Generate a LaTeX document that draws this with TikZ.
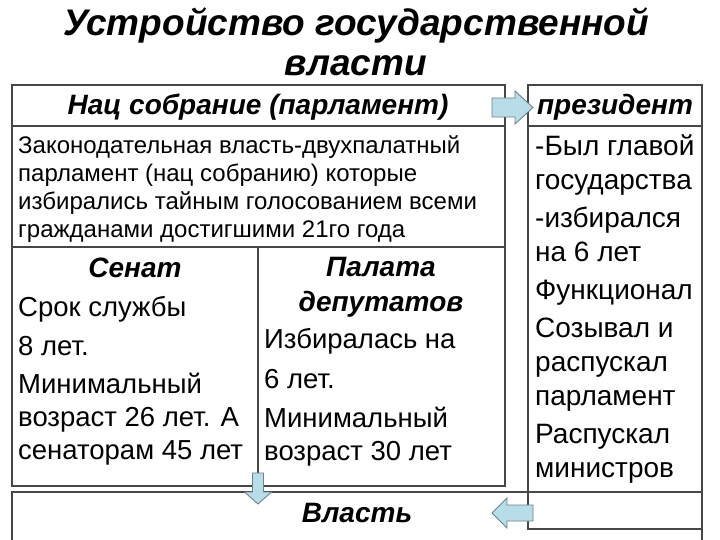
\documentclass[tikz,border=0pt]{standalone}
\usepackage{fontspec}
\setmainfont{Liberation Sans}
\usetikzlibrary{positioning}
\definecolor{arrowfill}{RGB}{183,221,232}
\definecolor{arrowline}{RGB}{110,130,140}
\definecolor{gridline}{RGB}{70,70,70}
\newcommand{\drawBlockArrow}[6]{
    \begin{scope}[shift={(#1)},rotate=#2]
        \filldraw[fill=arrowfill,draw=arrowline,line width=0.9pt,line join=miter]
        (0,-#5) -- (#3-#4,-#5) -- (#3-#4,-#6) -- (#3,0) -- (#3-#4,#6) -- (#3-#4,#5) -- (0,#5) -- cycle;
    \end{scope}
}

\begin{document}
\begin{tikzpicture}[x=1pt,y=-1pt,line cap=rect,
    cell/.style={draw=gridline,line width=1.1pt,fill=white},
    head/.style={font=\fontsize{28}{33}\selectfont\bfseries\itshape,inner sep=0pt,align=center},
    body/.style={inner sep=0pt,anchor=north west,align=left}]

        \useasboundingbox (0,0) rectangle (720,540);

        % --- Title ---
        \node[head,font=\fontsize{37}{40}\selectfont\bfseries\itshape,anchor=north] (title) at (356,8)
        {Устройство государственной\\власти};

        % --- Power box (bottom) ---
        \draw[cell] (12,492) rectangle (702,560);

        % --- Parliament table ---
        \draw[cell] (12,85) rectangle (505,486);
        \draw[cell] (12,126) -- (505,126);
        \draw[cell] (12,247) -- (505,247);
        \draw[cell] (258,247) -- (258,486);

        % --- President table ---
        \draw[cell] (528,85) rectangle (702,529);
        \draw[cell] (528,126) -- (702,126);
        \draw[cell] (528,492) -- (702,492);

        % headers
        \node[head,anchor=base] (parl) at (258,115) {Нац собрание (парламент)};
        \node[head,anchor=base] (pres) at (615,115) {президент};
        \node[head,anchor=base] (senat) at (135,277) {Сенат};
        \node[head,anchor=north,font=\fontsize{28}{35}\selectfont\bfseries\itshape] (palata) at (381,257) {Палата\\депутатов};
        \node[head,anchor=base] (power) at (357,522) {Власть};

        % legislative text
        \node[body,font=\fontsize{24}{28}\selectfont] (zakon) at (18,135)
        {Законодательная власть-двухпалатный\\парламент (нац собранию) которые\\избирались тайным голосованием всеми\\гражданами достигшими 21го года};

        % senate
        \node[body,font=\fontsize{27.5}{33}\selectfont] (senattxt) at (18,296)
        {Срок службы\\[6pt]8 лет.\\[5pt]Минимальный\\возраст 26 лет. А\\сенаторам 45 лет};

        % deputies
        \node[body,font=\fontsize{27.5}{33}\selectfont] (palatatxt) at (264,328)
        {Избиралась на\\[7pt]6 лет.\\[6pt]Минимальный\\возраст 30 лет};

        % president
        \node[body,font=\fontsize{28}{34}\selectfont] (prestxt) at (535,135)
        {-Был главой\\государства\\[4pt]-избирался\\на 6 лет\\[4pt]Функционал\\[4pt]Созывал и\\распускал\\парламент\\[4pt]Распускал\\министров};

        % --- Block arrows ---
        \coordinate (toPres) at (492,107.5);
        \coordinate (toPowerA) at (258,473);
        \coordinate (toPowerB) at (533,513);
        \drawBlockArrow{toPres}{0}{41}{18}{9.5}{16.5}
        \drawBlockArrow{toPowerA}{-90}{31}{12}{5.5}{13.5}
        \drawBlockArrow{toPowerB}{180}{41}{15}{8}{15}

\end{tikzpicture}
\end{document}
